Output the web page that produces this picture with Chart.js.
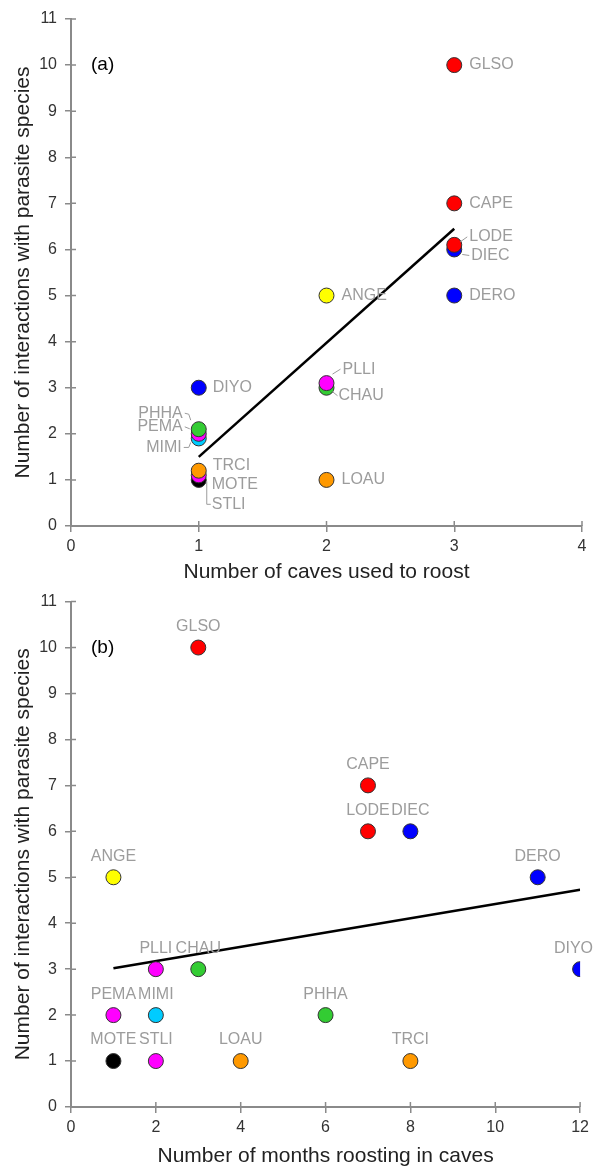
<!DOCTYPE html>
<html>
<head>
<meta charset="utf-8">
<script src="https://cdn.jsdelivr.net/npm/chart.js@4"></script>
<style>
  body { margin: 0; background: #fff; }
  canvas { display: block; }
</style>
</head>
<body>
<canvas id="chartA" width="594" height="584"></canvas>
<canvas id="chartB" width="594" height="584"></canvas>
<script>
// species codes (drawing order: later ones sit on top)
const species = ["GLSO", "CAPE", "DIEC", "LODE", "DERO", "ANGE", "CHAU", "PLLI", "LOAU", "DIYO", "MIMI", "PEMA", "PHHA", "MOTE", "STLI", "TRCI"];
const speciesColors = ["#ff0000", "#ff0000", "#0000ff", "#ff0000", "#0000ff", "#ffff00", "#33cc33", "#ff00ff", "#ff9900", "#0000ff", "#00ccff", "#ff00ff", "#33cc33", "#000000", "#ff00ff", "#ff9900"];

// panel (a)
const cavesUsed = [3, 3, 3, 3, 3, 2, 2, 2, 2, 1, 1, 1, 1, 1, 1, 1];
const interactionsA = [10, 7, 6, 6.1, 5, 5, 3, 3.1, 1, 3, 1.9, 2, 2.1, 1, 1.1, 1.2];
const trendAX = [1, 3];
const trendAY = [1.5, 6.45];
const xTicksA = [0, 1, 2, 3, 4];

// panel (b)
const monthsRoosting = [3, 7, 8, 7, 11, 1, 3, 2, 4, 12, 2, 1, 6, 1, 2, 8];
const interactionsB = [10, 7, 6, 6, 5, 5, 3, 3, 1, 3, 2, 2, 2, 1, 1, 1];
const trendBX = [1, 12];
const trendBY = [3.02, 4.73];
const xTicksB = [0, 2, 4, 6, 8, 10, 12];

const yTicks = [0, 1, 2, 3, 4, 5, 6, 7, 8, 9, 10, 11];

const FONT = "'Liberation Sans', Arial, Helvetica, sans-serif";
const AXIS_GREY = "#8a8a8a";
const LABEL_GREY = "#9c9c9c";

// label placement for (a): offset from point centre, alignment, optional leader line
const placeA = {
  GLSO: { dx: 15, dy: 0 },
  CAPE: { dx: 15, dy: 0 },
  LODE: { dx: 15, dy: -8, lead: [[6, -3], [13, -8]] },
  DIEC: { dx: 17, dy: 6, lead: [[8, 5], [15, 6]] },
  DERO: { dx: 15, dy: 0 },
  ANGE: { dx: 15, dy: 0 },
  PLLI: { dx: 16, dy: -14, lead: [[6, -9], [14, -14]] },
  CHAU: { dx: 12, dy: 8, lead: [[6, 4], [11, 8]] },
  LOAU: { dx: 15, dy: 0 },
  DIYO: { dx: 14, dy: 0 },
  PHHA: { dx: -16, dy: -16, right: true, lead: [[-14, -16], [-10, -15], [-8, -9]] },
  PEMA: { dx: -16, dy: -7, right: true, lead: [[-14, -7], [-9, -5]] },
  MIMI: { dx: -17, dy: 9, right: true, lead: [[-15, 9], [-10, 9], [-8, 4]] },
  TRCI: { dx: 14, dy: -5 },
  STLI: { dx: 13, dy: 29, lead: [[8, 6], [8, 29], [12, 29]] },
  MOTE: { dx: 13, dy: 5 }
};

function pts(xs, ys) {
  return xs.map((x, i) => ({ x: x, y: ys[i] }));
}

// point labels plugin
const pointLabels = {
  id: "pointLabels",
  afterDatasetsDraw(chart, args, opts) {
    const ctx = chart.ctx;
    const meta = chart.getDatasetMeta(0);
    ctx.save();
    ctx.font = "16px " + FONT;
    ctx.fillStyle = LABEL_GREY;
    ctx.strokeStyle = LABEL_GREY;
    ctx.lineWidth = 1;
    ctx.textBaseline = "middle";
    meta.data.forEach((el, i) => {
      const name = species[i];
      if (opts.mode === "right") {
        const p = placeA[name];
        ctx.textAlign = p.right ? "right" : "left";
        ctx.fillText(name, el.x + p.dx, el.y + p.dy);
        if (p.lead) {
          ctx.beginPath();
          p.lead.forEach((q, k) => {
            if (k === 0) ctx.moveTo(el.x + q[0], el.y + q[1]);
            else ctx.lineTo(el.x + q[0], el.y + q[1]);
          });
          ctx.stroke();
        }
      } else {
        // centred above, but kept inside the canvas
        const w = ctx.measureText(name).width;
        const cx = Math.min(el.x, chart.width - 1 - w / 2);
        ctx.textAlign = "center";
        ctx.fillText(name, cx, el.y - 21);
      }
    });
    // panel letter
    ctx.font = "19px " + FONT;
    ctx.fillStyle = "#000";
    ctx.textAlign = "left";
    ctx.fillText(opts.letter, chart.chartArea.left + 20, chart.scales.y.getPixelForValue(10));
    ctx.restore();
  }
};

// ticks that also poke into the plot area
const innerTicks = {
  id: "innerTicks",
  afterDraw(chart) {
    const ctx = chart.ctx;
    const { x, y } = chart.scales;
    const area = chart.chartArea;
    ctx.save();
    ctx.strokeStyle = AXIS_GREY;
    ctx.lineWidth = 1.5;
    ctx.beginPath();
    x.ticks.forEach(t => {
      const px = x.getPixelForValue(t.value);
      ctx.moveTo(px, area.bottom);
      ctx.lineTo(px, area.bottom - 5);
    });
    y.ticks.forEach(t => {
      const py = y.getPixelForValue(t.value);
      ctx.moveTo(area.left, py);
      ctx.lineTo(area.left + 5, py);
    });
    ctx.stroke();
    ctx.restore();
  }
};

function makeChart(id, xs, ys, tx, ty, xTicks, xMax, xTitle, mode, letter, topPad) {
  const ctx = document.getElementById(id).getContext("2d");
  return new Chart(ctx, {
    type: "scatter",
    data: {
      datasets: [
        {
          data: pts(xs, ys),
          pointRadius: 7.5,
          pointHoverRadius: 7.5,
          pointBackgroundColor: speciesColors,
          pointBorderColor: "#333",
          pointBorderWidth: 1
        },
        {
          data: pts(tx, ty),
          showLine: true,
          borderColor: "#000",
          borderWidth: 2.5,
          pointRadius: 0
        }
      ]
    },
    options: {
      responsive: false,
      animation: false,
      devicePixelRatio: 1,
      layout: { padding: { top: topPad, right: 12, left: 0, bottom: 0 } },
      plugins: {
        legend: { display: false },
        tooltip: { enabled: false },
        pointLabels: { mode: mode, letter: letter }
      },
      scales: {
        x: {
          type: "linear",
          min: 0,
          max: xMax,
          afterBuildTicks: s => { s.ticks = xTicks.map(v => ({ value: v })); },
          afterFit: s => { s.height = 584 - topPad - 507; },
          grid: { drawOnChartArea: false, tickLength: 6, color: AXIS_GREY, lineWidth: 1.5 },
          border: { color: AXIS_GREY, width: 2 },
          ticks: { color: "#333", font: { family: FONT, size: 16 }, padding: 5 },
          title: { display: true, text: xTitle, color: "#222", font: { family: FONT, size: 21 }, padding: { top: 0, bottom: -1 } }
        },
        y: {
          type: "linear",
          min: 0,
          max: 11,
          afterBuildTicks: s => { s.ticks = yTicks.map(v => ({ value: v })); },
          afterFit: s => { s.width = 71; },
          grid: { drawOnChartArea: false, tickLength: 6, color: AXIS_GREY, lineWidth: 1.5 },
          border: { color: AXIS_GREY, width: 2 },
          ticks: { color: "#333", font: { family: FONT, size: 16 }, padding: 8 },
          title: { display: true, text: "Number of interactions with parasite species", color: "#222", font: { family: FONT, size: 21 }, padding: { top: 11, bottom: 0 } }
        }
      }
    },
    plugins: [pointLabels, innerTicks]
  });
}

makeChart("chartA", cavesUsed, interactionsA, trendAX, trendAY, xTicksA, 4, "Number of caves used to roost", "right", "(a)", 19);
makeChart("chartB", monthsRoosting, interactionsB, trendBX, trendBY, xTicksB, 12, "Number of months roosting in caves", "above", "(b)", 16);
</script>
</body>
</html>
